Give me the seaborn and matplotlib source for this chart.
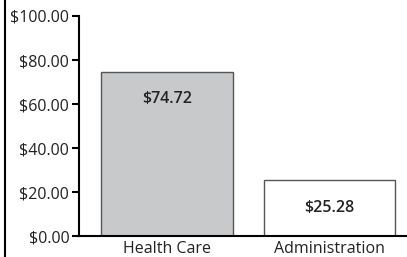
import matplotlib
matplotlib.use("Agg")
import matplotlib.pyplot as plt
import seaborn as sns
import pandas as pd
from matplotlib.lines import Line2D
from matplotlib.ticker import FuncFormatter

categories = ["Health Care", "Administration"]
values = [74.72, 25.28]
bar_colors = ["#c8c9cb", "#ffffff"]

sns.set_style("white")
plt.rcParams["font.family"] = ["Open Sans", "DejaVu Sans"]

df = pd.DataFrame({"category": categories, "value": values})

fig = plt.figure(figsize=(4.07, 2.57), dpi=100)
ax = fig.add_axes([79 / 407, 21 / 257, 330 / 407, 220 / 257])

sns.barplot(
    data=df, x="category", y="value", hue="category",
    palette=bar_colors, width=0.81, edgecolor="#555555",
    linewidth=1.0, legend=False, ax=ax
)

ax.set_ylim(0, 100)
ax.set_xlim(-0.54, 1.49)
ax.set_yticks([0, 20, 40, 60, 80, 100])
ax.yaxis.set_major_formatter(FuncFormatter(lambda v, p: f"${v:.2f}"))
ax.set_xlabel("")
ax.set_ylabel("")

for s in ["top", "right"]:
    ax.spines[s].set_visible(False)
for s in ["left", "bottom"]:
    ax.spines[s].set_color("black")
    ax.spines[s].set_linewidth(1.5)

ax.tick_params(axis="y", left=True, length=5, width=1.5, color="black",
               labelsize=11.5, labelcolor="#222222", pad=2)
ax.tick_params(axis="x", bottom=False, labelsize=11.5, labelcolor="#222222", pad=0)

for i, v in enumerate(values):
    ax.text(i, v - 12.5, f"${v:.2f}", ha="center", va="center",
            fontsize=11.5, fontweight="semibold", color="#222222")

# frame line on the left edge of the picture
fig.add_artist(Line2D([4.5 / 407, 4.5 / 407], [0, 1], transform=fig.transFigure,
                      color="black", linewidth=1.5))

fig.savefig("out.png", dpi=100)
